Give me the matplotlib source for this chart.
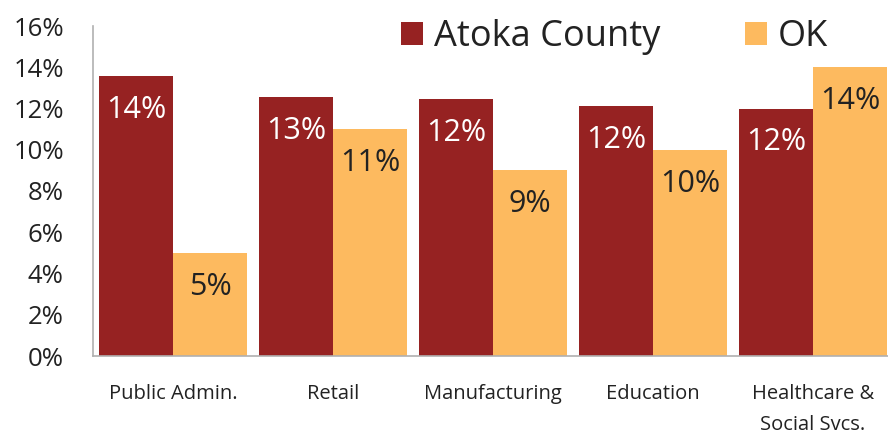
import matplotlib
matplotlib.use("Agg")
import matplotlib.pyplot as plt
import numpy as np

plt.rcParams["font.family"] = ["Open Sans", "DejaVu Sans"]

categories = ["Public Admin.", "Retail", "Manufacturing", "Education", "Healthcare &\nSocial Svcs."]
atoka = [13.6, 12.55, 12.45, 12.1, 12.0]
ok = [5.0, 11.0, 9.0, 10.0, 14.0]
series_names = ["Atoka County", "OK"]
yticks = [0, 2, 4, 6, 8, 10, 12, 14, 16]

RED = "#962222"
ORANGE = "#FDBA5F"
TXT = "#222222"

fig = plt.figure(figsize=(8.88, 4.42), dpi=100)
ax = fig.add_axes([93 / 888, 86 / 442, 800 / 888, 330 / 442])

x = np.arange(len(categories))
w = 0.4625
b1 = ax.bar(x - w / 2, atoka, w, color=RED, label=series_names[0])
b2 = ax.bar(x + w / 2, ok, w, color=ORANGE, label=series_names[1])

for bars, vals, col in ((b1, atoka, "white"), (b2, ok, TXT)):
    for r, v in zip(bars, vals):
        ax.annotate(f"{v:.0f}%", xy=(r.get_x() + r.get_width() / 2, v),
                    xytext=(0, -34), textcoords="offset pixels",
                    ha="center", va="center", fontsize=22, color=col)

ax.set_xlim(-0.5, 4.5)
ax.set_ylim(0, 16)
ax.set_yticks(yticks)
ax.set_yticklabels([f"{t}%" for t in yticks], fontsize=18.5, color=TXT)
ax.set_xticks(x)
ax.set_xticklabels(categories, fontsize=14.5, color=TXT, va="top", linespacing=1.75)
ax.tick_params(axis="y", length=0, pad=21)
ax.tick_params(axis="x", length=0, pad=20)

for s in ("top", "right"):
    ax.spines[s].set_visible(False)
for s in ("left", "bottom"):
    ax.spines[s].set_color("#b0b0b0")
    ax.spines[s].set_linewidth(1.2)

leg = fig.legend(loc="upper left", bbox_to_anchor=(368 / 888, 1.03), ncol=2,
                 frameon=False, fontsize=26, handlelength=0.62, handleheight=0.62,
                 handletextpad=0.3, columnspacing=2.35, labelcolor=TXT)

fig.savefig("out.png", dpi=100)
